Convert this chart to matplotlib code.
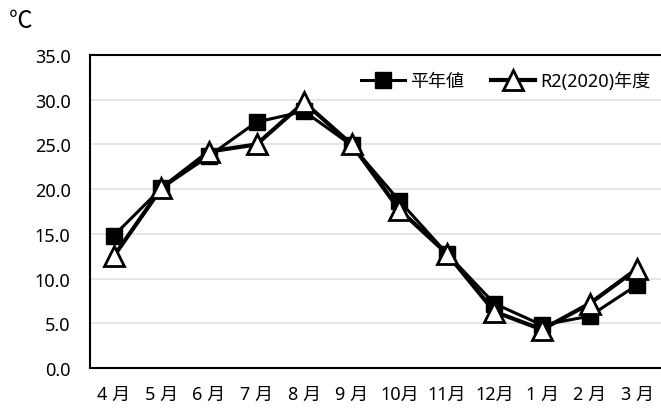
import numpy as np
import matplotlib
matplotlib.use('Agg')
import matplotlib.pyplot as plt

plt.rcParams['font.family'] = ['Noto Sans', 'Noto Sans CJK JP', 'DejaVu Sans']

months = ['4 月', '5 月', '6 月', '7 月', '8 月', '9 月', '10月', '11月', '12月', '1 月', '2 月', '3 月']
normal = [14.8, 20.1, 23.7, 27.5, 28.7, 24.9, 18.7, 12.8, 7.2, 4.8, 5.8, 9.3]
r2 = [12.5, 20.1, 24.2, 25.0, 29.7, 25.0, 17.7, 12.8, 6.3, 4.3, 7.2, 11.1]
yticks = [0, 5, 10, 15, 20, 25, 30, 35]

fig = plt.figure(figsize=(6.61, 4.10), dpi=100)
ax = fig.add_axes([90/661, 41/410, 571/661, 313/410])

x = np.arange(len(months))
ax.plot(x, normal, c='black', lw=2.2, marker='s', ms=11, mfc='black', mec='black', label='平年値', zorder=3)
ax.plot(x, r2, c='black', lw=3, marker='^', ms=15, mfc='white', mec='black', mew=2, label='R2(2020)年度', zorder=4)

ax.set_xlim(-0.5, len(months) - 0.5)
ax.set_ylim(0, 35)
ax.set_yticks(yticks)
ax.set_yticklabels(['%.1f' % v for v in yticks])
ax.set_xticks(x)
ax.set_xticklabels(months)
ax.tick_params(axis='both', length=0, labelsize=13, colors='black')
ax.tick_params(axis='x', pad=12)
ax.tick_params(axis='y', pad=14)
ax.grid(axis='y', color='#e0e0e0', lw=1.2)
ax.set_axisbelow(True)
for s in ['left', 'top', 'bottom']:
    ax.spines[s].set_linewidth(1.5)
    ax.spines[s].set_color('black')
ax.spines['right'].set_visible(False)

ax.legend(loc='upper right', ncol=2, frameon=False, fontsize=13, handlelength=2.4,
          handletextpad=0.3, columnspacing=1.5, borderaxespad=0.2,
          bbox_to_anchor=(1.0, 0.98))

fig.text(9/661, 1 - 22/410, '℃', fontsize=17, va='center', ha='left',
         family=['Noto Sans CJK JP'])

fig.savefig('out.png', dpi=100)
